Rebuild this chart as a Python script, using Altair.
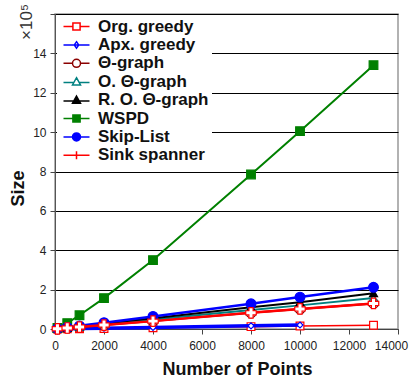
import altair as alt
import pandas as pd

# ---- data (sizes in units of 1e5) ----
points_x = [100, 500, 1000, 2000, 4000, 8000, 10000, 13000]
series_names = ["Org.  greedy", "Apx.  greedy", "Θ-graph", "O. Θ-graph",
                "R. O. Θ-graph", "WSPD", "Skip-List", "Sink spanner"]
org_greedy = [0.002, 0.008, 0.015, 0.03, 0.06, 0.12, 0.15, 0.19]
apx_greedy = [0.003, 0.01, 0.02, 0.04, 0.08, 0.16, 0.2]
theta_graph = [0.01, 0.05, 0.1, 0.2, 0.4, 0.82, 1.02, 1.3]
o_theta_graph = [0.012, 0.06, 0.12, 0.24, 0.48, 0.97, 1.2, 1.57]
r_o_theta_graph = [0.014, 0.07, 0.14, 0.28, 0.55, 1.1, 1.36, 1.82]
wspd = [0.05, 0.3, 0.7, 1.57, 3.5, 7.85, 10.05, 13.4]
skip_list = [0.016, 0.08, 0.16, 0.32, 0.64, 1.28, 1.62, 2.12]
sink_spanner = [0.01, 0.05, 0.1, 0.2, 0.4, 0.82, 1.02, 1.3]

x_ticks = [0, 2000, 4000, 6000, 8000, 10000, 12000, 14000]
y_ticks = [0, 2, 4, 6, 8, 10, 12, 14, 16]

values = [org_greedy, apx_greedy, theta_graph, o_theta_graph,
          r_o_theta_graph, wspd, skip_list, sink_spanner]

colors = ["#ff0000", "#0000ff", "#8b0000", "#008080", "#000000", "#008000", "#0000ff", "#ff0000"]
fills = ["white", "white", "white", "white", "#000000", "#008000", "#0000ff", "white"]
shapes = ["square", "diamond", "circle", "triangle-up", "triangle-up", "square", "circle", "cross"]
widths = [1.5, 3.5, 2, 2, 2, 2, 2.5, 2.5]
msizes = [60, 35, 100, 65, 65, 75, 95, 110]

legend_paths = [
    "M-3.25,0H-0.9M0.9,0H3.25M-0.9,-0.9H0.9V0.9H-0.9Z",
    "M-3.25,0H3.25M0,-0.8L0.55,0L0,0.8L-0.55,0Z",
    "M-3.25,0H-1M1,0H3.25M1,0A1,1 0 1,1 -1,0A1,1 0 1,1 1,0Z",
    "M-3.25,0.2H-0.55M0.55,0.2H3.25M0,-1L1,0.8L-1,0.8Z",
    "M-3.25,0.2H3.25M0,-1L1,0.8L-1,0.8Z",
    "M-3.25,0H3.25M-0.9,-0.9H0.9V0.9H-0.9Z",
    "M-3.25,0H3.25M1,0A1,1 0 1,1 -1,0A1,1 0 1,1 1,0Z",
    "M-3.25,0H3.25M0,-1V1",
]

rows = []
for name, vals in zip(series_names, values):
    for x, v in zip(points_x, vals):
        rows.append({"series": name, "n": x, "size": v})
df = pd.DataFrame(rows)

xscale = alt.Scale(domain=[0, 14000], nice=False)
yscale = alt.Scale(domain=[0, 16], nice=False)

xenc = alt.X("n:Q", scale=xscale, axis=alt.Axis(
    title="Number of Points", values=x_ticks, grid=False, format="d", labelOverlap=False,
    labelFlush=False,
    labelOffset=alt.condition("datum.value == 14000", alt.value(-7), alt.value(0)),
    labelFont="Liberation Sans", labelFontSize=12, labelColor="#222", labelPadding=6,
    titleFont="Liberation Sans", titleFontSize=18, titleFontWeight="bold", titleColor="#111",
    titlePadding=9, titleX=182, domainColor="#444", tickColor="#444", tickSize=5))
yenc = alt.Y("size:Q", scale=yscale, axis=alt.Axis(
    title="Size", values=y_ticks, labelOverlap=False, labelFlush=False,
    labelExpr="datum.value == 16 ? '' : datum.label",
    grid=True, gridColor="#000000", gridWidth=1,
    labelFont="Liberation Sans", labelFontSize=12, labelColor="#222", labelPadding=4,
    titleFont="Liberation Sans", titleFontSize=18, titleFontWeight="bold", titleColor="#111",
    titlePadding=5, titleY=174, domainColor="#555", tickColor="#444", tickSize=5))

layers = []
for i, name in enumerate(series_names):
    base = alt.Chart(df).transform_filter(alt.datum.series == name)
    layers.append(base.mark_line(strokeWidth=widths[i], color=colors[i]).encode(x=xenc, y=yenc))
    layers.append(base.mark_point(shape=shapes[i], size=msizes[i], filled=False,
                                  stroke=colors[i], fill=fills[i], fillOpacity=1,
                                  strokeWidth=1.2, opacity=1).encode(x=xenc, y=yenc))

legend_layer = alt.Chart(df).transform_filter("false").mark_point(size=64, strokeWidth=1.5, opacity=1).encode(
    x=xenc,
    y=yenc,
    stroke=alt.Stroke("series:N", scale=alt.Scale(domain=series_names, range=colors),
                      legend=alt.Legend(title=None)),
    fill=alt.Fill("series:N", scale=alt.Scale(domain=series_names, range=fills),
                  legend=alt.Legend(title=None)),
    shape=alt.Shape("series:N", scale=alt.Scale(domain=series_names, range=legend_paths),
                    legend=alt.Legend(title=None)),
)

annot = alt.Chart(pd.DataFrame({"t": ["×10⁵"]})).mark_text(
    angle=270, font="Liberation Sans", fontSize=17, color="#333", align="center", baseline="middle"
).encode(x=alt.value(-28), y=alt.value(8), text="t:N")

chart = alt.layer(*layers, legend_layer, annot).properties(
    width=343, height=315,
    autosize=alt.AutoSizeParams(type="none"),
    padding={"left": 55, "top": 14, "right": 13, "bottom": 55},
    background="white",
).configure_view(stroke="#999999", strokeWidth=1.5).configure_legend(
    orient="none", legendX=2, legendY=2,
    fillColor="white", strokeColor="white", padding=2,
    labelFont="Liberation Sans", labelFontSize=17, labelFontWeight="bold", labelColor="#111",
    symbolSize=64, symbolStrokeWidth=1.5, symbolOffset=9, labelOffset=13,
    rowPadding=0.4, labelLimit=300,
)

chart.save("out.html", embed_options={"renderer": "svg", "actions": False})
